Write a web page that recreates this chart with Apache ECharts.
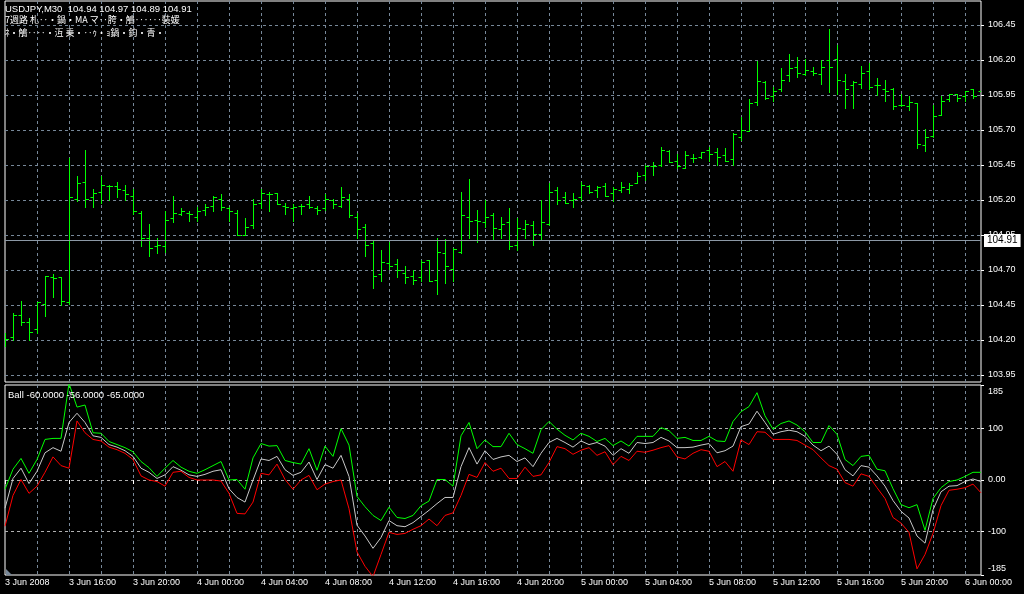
<!DOCTYPE html>
<html>
<head>
<meta charset="utf-8">
<script src="https://cdn.jsdelivr.net/npm/echarts@6/dist/echarts.min.js"></script>
<style>
html,body{margin:0;padding:0;background:#000;}
#chart{width:1024px;height:594px;}
</style>
</head>
<body>
<div id="chart"></div>
<script>
// ---------- data ----------
const headerLine1 = 'USDJPY,M30  104.94 104.97 104.89 104.91';
const headerLine2 = '7週路 札‥・鍋・MA マ‥胯・鵤‥‥‥裝媛';
const headerLine3 = 'ﾈ・鵤‥‥・沍 乗・‥ｩ・ｮ鍋・鈞・青・';
const indicatorLabel = 'Ball -60.0000 -56.0000 -65.0000';
const currentPrice = 104.91;

const opens = [
104.20,104.22,104.38,104.33,104.28,104.46,104.65,104.65,104.47,105.21,
105.33,105.22,105.26,105.30,105.30,105.27,105.23,105.11,104.93,104.87,
104.87,105.07,105.10,105.11,105.08,105.13,105.16,105.21,105.14,105.11,
104.95,105.02,105.18,105.24,105.25,105.16,105.14,105.16,105.17,105.14,
105.14,105.20,105.16,105.21,105.08,105.01,104.89,104.67,104.75,104.74,
104.68,104.66,104.65,104.77,104.63,104.82,104.71,104.83,105.08,105.06,
105.04,105.09,104.99,105.04,104.88,104.99,105.02,104.96,105.03,105.27,
105.22,105.20,105.22,105.30,105.27,105.30,105.25,105.27,105.28,105.32,
105.38,105.44,105.45,105.55,105.48,105.43,105.50,105.51,105.56,105.54,
105.52,105.49,105.65,105.69,105.90,106.04,105.94,105.99,106.09,106.15,
106.10,106.12,106.10,106.20,106.21,106.05,106.02,106.03,106.12,106.02,
105.99,105.99,105.88,105.87,105.89,105.59,105.66,105.81,105.92,105.96,
105.94,105.99,105.98];
const highs = [
104.25,104.39,104.48,104.36,104.47,104.66,104.67,104.65,105.50,105.37,
105.56,105.28,105.37,105.31,105.33,105.31,105.28,105.12,105.03,104.93,
105.12,105.23,105.14,105.12,105.15,105.17,105.23,105.24,105.15,105.13,
105.07,105.21,105.28,105.26,105.25,105.18,105.17,105.17,105.23,105.16,
105.24,105.21,105.29,105.24,105.11,105.03,104.91,104.84,104.90,104.78,
104.73,104.70,104.77,104.77,104.93,104.92,104.86,105.26,105.35,105.13,
105.20,105.11,105.08,105.14,105.07,105.06,105.05,105.20,105.32,105.29,
105.26,105.25,105.33,105.31,105.30,105.32,105.29,105.33,105.32,105.40,
105.45,105.47,105.58,105.56,105.53,105.55,105.53,105.54,105.58,105.57,
105.57,105.68,105.79,105.92,106.19,106.05,106.01,106.14,106.24,106.22,
106.21,106.15,106.20,106.42,106.31,106.10,106.05,106.16,106.18,106.07,
106.06,106.00,105.96,105.94,105.89,105.71,105.88,105.94,105.96,105.96,
105.98,105.99,106.00];
const lows = [
104.16,104.20,104.31,104.20,104.25,104.37,104.51,104.45,104.46,105.19,
105.15,105.15,105.18,105.20,105.22,105.20,105.10,104.87,104.80,104.82,
104.83,105.04,105.09,105.05,105.05,105.09,105.12,105.13,105.05,104.95,
104.95,105.00,105.14,105.12,105.17,105.10,105.05,105.10,105.14,105.10,
105.13,105.14,105.15,105.08,104.93,104.80,104.57,104.62,104.71,104.65,
104.61,104.60,104.62,104.62,104.53,104.61,104.62,104.82,104.93,104.90,
105.01,104.92,104.93,104.85,104.84,104.93,104.88,104.92,105.02,105.17,
105.18,105.15,105.20,105.25,105.22,105.23,105.19,105.26,105.25,105.32,
105.34,105.38,105.44,105.47,105.43,105.43,105.47,105.50,105.48,105.45,
105.48,105.45,105.63,105.69,105.88,105.92,105.91,105.98,106.05,106.08,
106.09,106.09,106.03,105.97,105.96,105.86,105.86,106.00,105.99,105.95,
105.91,105.85,105.87,105.84,105.57,105.55,105.65,105.81,105.91,105.91,
105.91,105.93,105.87];
const closes = [
104.21,104.38,104.33,104.26,104.47,104.66,104.64,104.48,105.22,105.32,
105.21,105.25,105.31,105.30,105.28,105.24,105.12,104.93,104.86,104.88,
105.06,105.11,105.12,105.10,105.12,105.15,105.22,105.15,105.12,104.95,
105.01,105.17,105.25,105.24,105.17,105.15,105.15,105.16,105.15,105.13,
105.21,105.17,105.22,105.09,104.99,104.88,104.66,104.76,104.73,104.70,
104.65,104.63,104.76,104.62,104.83,104.73,104.85,105.09,105.05,105.05,
105.08,105.00,105.03,104.87,105.00,105.03,104.96,105.04,105.26,105.20,
105.18,105.21,105.31,105.26,105.29,105.23,105.28,105.29,105.31,105.37,
105.44,105.44,105.56,105.47,105.44,105.52,105.50,105.54,105.53,105.51,
105.48,105.67,105.70,105.89,106.05,105.93,105.98,106.06,106.14,106.11,
106.13,106.11,106.15,106.15,106.06,105.99,106.04,106.11,106.01,106.02,
105.98,105.87,105.88,105.90,105.60,105.65,105.80,105.91,105.96,105.93,
105.98,105.94,105.95];

const ballUpper = [
-18,21,42,13,40,79,81,81,188,142,
146,92,91,75,69,63,55,36,24,7,
23,38,25,17,13,20,28,36,0,1,
-18,43,71,66,67,38,34,31,61,19,
66,46,100,68,-32,-52,-69,-79,-53,-73,
-75,-69,-50,-41,1,1,-12,86,112,61,
78,65,65,91,69,61,52,98,114,99,
87,78,91,85,75,81,67,76,66,85,
85,85,102,96,81,83,77,77,85,76,
75,114,133,143,170,125,99,110,115,107,
94,73,73,106,89,40,28,46,48,21,
18,-17,-48,-54,-48,-98,-36,-15,-3,0,
7,15,15];
const ballMiddle = [
-55,3,23,-7,17,53,63,56,112,130,
112,86,83,69,64,57,46,23,15,3,
10,26,19,10,7,11,17,20,-17,-34,
-43,0,41,38,46,20,9,15,35,1,
30,23,48,7,-88,-109,-133,-112,-79,-89,
-91,-83,-71,-59,-46,-34,-34,26,63,31,
57,40,45,48,36,43,26,52,73,81,
73,64,76,69,73,66,48,61,52,73,
71,73,83,76,63,63,64,68,71,53,
57,66,104,109,134,112,89,94,97,94,
85,68,57,66,50,20,8,28,25,8,
-12,-40,-61,-74,-109,-123,-58,-23,-12,-11,
-3,2,-3];
const ballLower = [
-90,-30,1,-26,-12,15,45,28,23,115,
92,79,76,64,59,52,40,8,0,-3,
-12,15,17,5,0,0,0,-2,-26,-65,
-66,-43,13,10,31,1,-18,0,9,-19,
-8,-3,0,-56,-140,-168,-188,-145,-102,-106,
-104,-96,-89,-76,-89,-69,-64,-30,11,5,
34,17,23,3,3,25,7,10,34,65,
61,50,58,63,48,55,30,46,38,56,
54,58,63,67,45,41,52,59,56,26,
36,17,78,69,94,93,79,79,79,77,
68,59,43,28,21,-5,-12,12,7,-15,
-36,-73,-84,-102,-173,-145,-104,-50,-20,-18,
-15,-8,-25];

const priceTicks = [103.95,104.20,104.45,104.70,104.95,105.20,105.45,105.70,105.95,106.20,106.45];
const ballTicks = [-185,-100,0,100,185];
const timeTickLabels = ['3 Jun 2008','3 Jun 16:00','3 Jun 20:00','4 Jun 00:00','4 Jun 04:00','4 Jun 08:00',
  '4 Jun 12:00','4 Jun 16:00','4 Jun 20:00','5 Jun 00:00','5 Jun 04:00','5 Jun 08:00',
  '5 Jun 12:00','5 Jun 16:00','5 Jun 20:00','6 Jun 00:00'];

// bar time categories: 30-minute bars starting 3 Jun 2008 12:00
const barTimes = opens.map((_, i) => {
  const m = 12 * 60 + 30 * i;
  const d = 3 + Math.floor(m / 1440);
  const mm = m % 1440;
  const hh = String(Math.floor(mm / 60)).padStart(2, '0');
  const mi = String(mm % 60).padStart(2, '0');
  return d + ' Jun ' + hh + ':' + mi;
});

// ---------- chart ----------
const FONT = "'Liberation Sans', Arial, sans-serif";
const CJK = "'Noto Sans CJK JP', 'Liberation Sans', sans-serif";
const GRID_COLOR = '#778899';
const LEVEL_COLOR = '#b0b0b0';

const ohlcData = opens.map((o, i) => [i, o, highs[i], lows[i], closes[i]]);

function renderOHLC(params, api) {
  const i = api.value(0);
  const pO = api.coord([i, api.value(1)]);
  const pH = api.coord([i, api.value(2)]);
  const pL = api.coord([i, api.value(3)]);
  const pC = api.coord([i, api.value(4)]);
  const x = Math.round(pH[0]) + 0.5;
  const yo = Math.round(pO[1]) + 0.5;
  const yc = Math.round(pC[1]) + 0.5;
  const st = { stroke: '#00ff00', lineWidth: 1 };
  return {
    type: 'group',
    children: [
      { type: 'line', shape: { x1: x, y1: Math.round(pH[1]), x2: x, y2: Math.round(pL[1]) + 1 }, style: st },
      { type: 'line', shape: { x1: x - 3, y1: yo, x2: x, y2: yo }, style: st },
      { type: 'line', shape: { x1: x, y1: yc, x2: x + 3.5, y2: yc }, style: st }
    ]
  };
}

const chart = echarts.init(document.getElementById('chart'), null, { renderer: 'canvas' });

const xCommon = {
  type: 'category',
  data: barTimes,
  boundaryGap: false,
  axisLine: { show: false },
  splitLine: {
    show: true,
    interval: (idx) => idx > 0 && idx % 4 === 0,
    lineStyle: { color: GRID_COLOR, type: [3, 3], width: 1 }
  }
};

const option = {
  backgroundColor: '#000',
  animation: false,
  grid: [
    { left: 5, right: 43, top: 1, height: 381, show: true, borderColor: '#ffffff', borderWidth: 1, backgroundColor: 'transparent' },
    { left: 5, right: 43, top: 385, height: 190, show: true, borderColor: '#ffffff', borderWidth: 1, backgroundColor: 'transparent' }
  ],
  xAxis: [
    Object.assign({}, xCommon, {
      gridIndex: 0,
      axisTick: { show: false },
      axisLabel: { show: false }
    }),
    Object.assign({}, xCommon, {
      gridIndex: 1,
      axisTick: { show: true, interval: (idx) => idx % 8 === 0, length: 4, lineStyle: { color: '#fff' } },
      axisLabel: {
        show: true,
        interval: (idx) => idx % 8 === 0,
        formatter: (val, idx) => timeTickLabels[idx / 8] || '',
        color: '#fff',
        fontFamily: FONT,
        fontSize: 9,
        align: 'left',
        margin: 3
      }
    })
  ],
  yAxis: [
    {
      gridIndex: 0,
      type: 'value',
      position: 'right',
      min: 103.90,
      max: 106.6214,
      axisLine: { show: false },
      axisTick: { show: true, customValues: priceTicks, length: 3, lineStyle: { color: '#fff' } },
      axisLabel: {
        customValues: priceTicks,
        formatter: (v) => v.toFixed(2),
        color: '#fff', fontFamily: FONT, fontSize: 9, margin: 7
      },
      splitLine: { show: true, lineStyle: { color: GRID_COLOR, type: [3, 3], width: 1 } }
    },
    {
      gridIndex: 1,
      type: 'value',
      position: 'right',
      min: -185,
      max: 185,
      axisLine: { show: false },
      axisTick: { show: true, customValues: ballTicks, length: 3, lineStyle: { color: '#fff' } },
      axisLabel: {
        customValues: ballTicks,
        formatter: (v) => v === 185 ? '{t|185}' : v === -185 ? '{b|-185}' : (v === 0 ? '0.00' : String(v)),
        color: '#fff', fontFamily: FONT, fontSize: 9, margin: 7,
        rich: {
          t: { color: '#fff', fontFamily: FONT, fontSize: 9, padding: [14, 0, 0, 0] },
          b: { color: '#fff', fontFamily: FONT, fontSize: 9, padding: [0, 0, 12, 0] }
        }
      },
      splitLine: { show: true, showMinLine: false, showMaxLine: false, lineStyle: { color: LEVEL_COLOR, type: [3, 3], width: 1 } }
    }
  ],
  series: [
    {
      name: 'USDJPY',
      type: 'custom',
      xAxisIndex: 0,
      yAxisIndex: 0,
      renderItem: renderOHLC,
      encode: { x: 0, y: [1, 2, 3, 4] },
      data: ohlcData,
      clip: true,
      z: 3
    },
    {
      name: 'price',
      type: 'line',
      xAxisIndex: 0,
      yAxisIndex: 0,
      data: [],
      z: 4,
      markLine: {
        silent: true,
        symbol: ['none', 'none'],
        lineStyle: { color: '#8c99a6', type: 'solid', width: 1 },
        label: {
          show: true,
          position: 'end',
          formatter: currentPrice.toFixed(2),
          color: '#000',
          backgroundColor: '#fff',
          fontFamily: FONT,
          fontSize: 10,
          padding: [2, 3, 1, 3],
          distance: 3
        },
        data: [{ yAxis: currentPrice }]
      }
    },
    {
      name: 'Ball upper', type: 'line', xAxisIndex: 1, yAxisIndex: 1, data: ballUpper,
      symbol: 'none', showSymbol: false, lineStyle: { color: '#00ff00', width: 1 }, z: 3
    },
    {
      name: 'Ball middle', type: 'line', xAxisIndex: 1, yAxisIndex: 1, data: ballMiddle,
      symbol: 'none', showSymbol: false, lineStyle: { color: '#c8c8c8', width: 1 }, z: 3
    },
    {
      name: 'Ball lower', type: 'line', xAxisIndex: 1, yAxisIndex: 1, data: ballLower,
      symbol: 'none', showSymbol: false, lineStyle: { color: '#ff0000', width: 1 }, z: 3
    }
  ],
  graphic: [
    { type: 'text', left: 5, top: 4, z: 10, style: { text: headerLine1, fill: '#fff', fontFamily: FONT, fontSize: 9.5 } },
    { type: 'text', left: 5, top: 15, z: 10, style: { text: headerLine2, fill: '#fff', fontFamily: CJK, fontSize: 9 } },
    { type: 'text', left: 5, top: 28, z: 10, style: { text: headerLine3, fill: '#fff', fontFamily: CJK, fontSize: 9 } },
    { type: 'text', left: 8, top: 390, z: 10, style: { text: indicatorLabel, fill: '#fff', fontFamily: FONT, fontSize: 9.5 } },
    { type: 'polygon', z: 10, shape: { points: [[6, 569], [6, 575], [12, 575]] }, style: { fill: GRID_COLOR } }
  ]
};

chart.setOption(option);
</script>
</body>
</html>
